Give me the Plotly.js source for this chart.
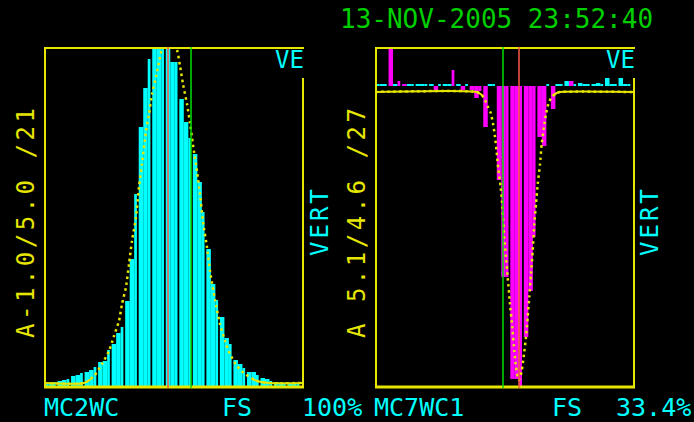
<!DOCTYPE html>
<html><head><meta charset="utf-8">
<script src="https://cdn.plot.ly/plotly-3.0.1.min.js"></script>
<style>html,body{margin:0;padding:0;background:#000;overflow:hidden}#chart{width:694px;height:422px}</style>
</head><body><div id="chart"></div>
<script>
// ---------- data ----------
// left histogram (counts per channel, cyan)
const leftCounts = [5,5,6,7,8,9,12,13,15,16,18,21,26,27,38,44,55,61,87,129,
  194,261,300,329,360,360,360,360,326,326,289,266,250,234,206,176,139,104,88,71,
  50,44,28,24,20,16,16,13,10,9,7,6,5,5,5,5,5];
// right histogram (deviation per channel, magenta; positive drawn downward)
const rightCounts = [0,0,0,-45,0,-5,-2,0,0,0,0,0,0,4,0,0,0,-16,0,4,
  0,4,12,5,41,0,0,94,191,191,293,293,310,251,205,151,51,60,0,23,
  0,0,0,-5,0,0,0,0,0,0,0,0,0,0,0,0,0];
// right histogram empty-channel marks (cyan)
const rightZeroMarks = [-2,-2,-2,0,-2,0,0,-2,-2,-2,-2,-2,-2,0,-2,-2,-2,0,-2,0,
  -2,0,0,0,0,-2,-2,0,0,0,0,0,0,0,0,0,0,0,-2,0,
  -2,-2,-5,0,-2,-3,-2,-2,-2,-3,-2,-8,-2,-2,-8,-2,-2];
// fitted curves (yellow, dotted)
const leftFitX = [-0.5,8.37,10.59,12.36,13.91,15.02,16.13,16.80,17.68,18.35,19.01,19.90,20.56,21.23,22.12,22.78,23.45,24.33,25.00,25.66,27.33,
  28.99,29.66,30.32,31.21,31.87,32.54,33.42,34.09,34.76,35.64,36.31,37.42,38.52,39.63,40.74,42.29,44.07,46.73,49.61,57.15];
const leftFitY = [5,5,12,24,37,52,67,84,101,124,147,171,201,224,257,274,294,311,326,339,352,
  338,322,304,284,265,243,217,194,166,141,117,88,64,47,34,22,14,7,5,5];
const rightFitX = [-0.5,22.05,23.16,23.89,24.56,25.15,25.73,26.11,26.48,26.84,27.37,27.81,28.17,28.55,28.92,29.43,29.94,30.39,30.76,31.14,31.43,
  32.03,32.54,32.98,33.36,33.71,34.09,34.47,34.82,35.20,35.58,36.09,36.46,36.97,37.42,37.93,38.68,39.79,40.52,57.15];
const rightFitY = [6,6,9,14,21,27,39,51,66,83,101,125,151,171,191,218,241,265,281,291,294,
  285,268,251,231,211,188,165,138,118,98,78,58,41,28,18,11,7,6,6];
// cursor positions (channel units): [red, green]
const leftCursors = [27.0, 32.1];
const rightCursors = [31.43, 27.88];
// texts
const timestamp = '13-NOV-2005 23:52:40';
const leftAxisLabel = 'A-1.0/5.0 /21';
const rightAxisLabel = 'A 5.1/4.6 /27';
const sideLabel = 'VERT';
const cornerLabel = 'VE';
const leftFooter = ['MC2WC', 'FS', '100%'];
const rightFooter = ['MC7WC1', 'FS', '33.4%'];

// ---------- styling / geometry ----------
const W = 694, H = 422;
const YEL = '#e6e600', CYA = '#00ffff', MAG = '#ff00ff', GRN = '#00dd00', RED = '#ff5a46';
const FONT = 'DejaVu Sans Mono, Liberation Mono, monospace';
const px = v => v / W, py = v => 1 - v / H;
const yDom = [py(388), py(47)];
const lDom = [px(44), px(304)], rDom = [px(375), px(635)];
const xr = [-0.5, 57.15];

const idx = a => a.map((_, i) => i);
const widths = a => a.map((_, i) => (i % 3 === 2 ? 0.6 : 1));
const offs = a => a.map(() => -0.5);
const DOT = {color: YEL, width: 2.5, dash: '2.5px,3.5px', shape: 'spline', smoothing: 0.6};
const SOLID = {color: YEL, width: 2, shape: 'spline', smoothing: 0.6};

const traces = [
  {type:'bar', x: idx(leftCounts), y: leftCounts, width: widths(leftCounts), offset: offs(leftCounts),
   marker:{color: CYA, line:{width:0}}, xaxis:'x', yaxis:'y', hoverinfo:'skip'},
  {type:'scatter', mode:'lines', x: leftFitX, y: leftFitY, line: DOT, xaxis:'x', yaxis:'y', hoverinfo:'skip'},
  {type:'scatter', mode:'lines', x: leftFitX, y: leftFitY, line: SOLID, xaxis:'x', yaxis:'y4', hoverinfo:'skip'},
  {type:'bar', x: idx(rightZeroMarks), y: rightZeroMarks, width: widths(rightZeroMarks), offset: offs(rightZeroMarks),
   marker:{color: CYA, line:{width:0}}, xaxis:'x2', yaxis:'y2', hoverinfo:'skip'},
  {type:'bar', x: idx(rightCounts), y: rightCounts, width: widths(rightCounts), offset: offs(rightCounts),
   marker:{color: MAG, line:{width:0}}, xaxis:'x2', yaxis:'y2', hoverinfo:'skip'},
  {type:'scatter', mode:'lines', x: rightFitX, y: rightFitY, line: DOT, xaxis:'x2', yaxis:'y2', hoverinfo:'skip'},
  {type:'scatter', mode:'lines', x: rightFitX, y: rightFitY, line: SOLID, xaxis:'x2', yaxis:'y3', hoverinfo:'skip'}
];

const hid = {showgrid:false, zeroline:false, showticklabels:false, ticks:'', showline:false, fixedrange:true};

const shapes = [];
function frame(d) {
  const L = {color: YEL, width: 2};
  shapes.push({type:'line', xref:'paper', yref:'paper', x0:d[0], x1:d[1], y0:py(48), y1:py(48), line:L});
  shapes.push({type:'line', xref:'paper', yref:'paper', x0:d[0], x1:d[1], y0:py(387), y1:py(387), line:{color:YEL, width:3}});
  shapes.push({type:'line', xref:'paper', yref:'paper', x0:d[0]+px(1), x1:d[0]+px(1), y0:py(388), y1:py(47), line:L});
  shapes.push({type:'line', xref:'paper', yref:'paper', x0:d[1]-px(1), x1:d[1]-px(1), y0:py(388), y1:py(78), line:L});
}
frame(lDom); frame(rDom);
function cursors(c, xa, ya) {
  shapes.push({type:'line', xref:xa, yref:ya+' domain', x0:c[0], x1:c[0], y0:0, y1:1, line:{color:RED, width:1.5}});
  shapes.push({type:'line', xref:xa, yref:ya+' domain', x0:c[1], x1:c[1], y0:0, y1:1, line:{color:GRN, width:1.5}});
}
cursors(leftCursors, 'x', 'y'); cursors(rightCursors, 'x2', 'y2');

const ann = (text, x, y, opt) => Object.assign({text, x: px(x), y: py(y), xref:'paper', yref:'paper', showarrow:false,
  xanchor:'left', yanchor:'middle', borderpad:0, borderwidth:0, font:{family:FONT, size:25, color:CYA}}, opt || {});
const spaced = (t, s) => '<span style="letter-spacing:' + s + 'px">' + t + '</span>';
const FY = 407;

const annotations = [
  ann(timestamp, 340, 19, {font:{family:FONT, size:26, color:'#00d000'}}),
  ann(leftFooter[0], 44, FY), ann(leftFooter[1], 222, FY), ann(leftFooter[2], 302, FY),
  ann(rightFooter[0], 374, FY), ann(rightFooter[1], 552, FY), ann(rightFooter[2], 616, FY),
  ann(cornerLabel, 304, 60, {xanchor:'right', font:{family:FONT, size:24, color:CYA}}),
  ann(cornerLabel, 635, 60, {xanchor:'right', font:{family:FONT, size:24, color:CYA}}),
  ann(spaced(sideLabel, 3), 320, 221, {xanchor:'center', textangle:-90, font:{family:FONT, size:24, color:CYA}}),
  ann(spaced(sideLabel, 3), 650, 221, {xanchor:'center', textangle:-90, font:{family:FONT, size:24, color:CYA}}),
  ann(spaced(leftAxisLabel, 3.5), 26, 222, {xanchor:'center', textangle:-90, font:{family:FONT, size:24, color:YEL}}),
  ann(spaced(rightAxisLabel, 3.5), 357, 222, {xanchor:'center', textangle:-90, font:{family:FONT, size:24, color:YEL}})
];

const layout = {
  width: W, height: H, margin:{l:0, r:0, t:0, b:0, pad:0},
  paper_bgcolor:'#000', plot_bgcolor:'rgba(0,0,0,0)', showlegend:false, barmode:'overlay',
  xaxis: Object.assign({domain: lDom, range: xr, anchor:'y'}, hid),
  yaxis: Object.assign({domain: yDom, range: [0, 341], anchor:'x'}, hid),
  xaxis2: Object.assign({domain: rDom, range: xr, anchor:'y2'}, hid),
  yaxis2: Object.assign({domain: yDom, range: [302, -39], anchor:'x2'}, hid),
  yaxis3: Object.assign({domain: [py(96), py(88)], range: [10, 2], anchor:'x2'}, hid),
  yaxis4: Object.assign({domain: [py(386), py(379)], range: [2, 9], anchor:'x'}, hid),
  shapes, annotations
};

Plotly.newPlot('chart', traces, layout, {staticPlot:true, displayModeBar:false});
</script></body></html>
